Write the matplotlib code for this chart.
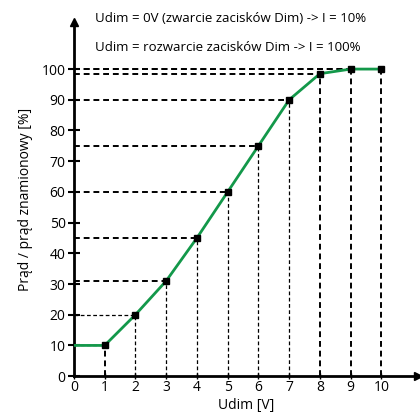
import matplotlib
matplotlib.use('Agg')
import matplotlib.pyplot as plt

plt.rcParams['font.family'] = ['Open Sans', 'DejaVu Sans']

# data
U_DIM = [0, 1, 2, 3, 4, 5, 6, 7, 8, 9, 10]
CURRENT = [10, 10, 20, 31, 45, 60, 75, 90, 98.5, 100, 100]
X_TICKS = [0, 1, 2, 3, 4, 5, 6, 7, 8, 9, 10]
Y_TICKS = [0, 10, 20, 30, 40, 50, 60, 70, 80, 90, 100]
NOTE_1 = "Udim = 0V (zwarcie zacisków Dim) -> I = 10%"
NOTE_2 = "Udim = rozwarcie zacisków Dim -> I = 100%"

GREEN = '#13984a'

fig = plt.figure(figsize=(4.2, 4.17), dpi=100)
ax = fig.add_axes([0.176, 0.098, 0.82, 0.849])
ax.set_xlim(0, 11.2)
ax.set_ylim(0, 115.3)

# dashed guide lines, thick ones for the upper points
for x, y in zip(U_DIM[1:], CURRENT[1:]):
    lw_h = 0.9 if y < 25 else 1.4
    lw_v = 1.4 if x in (1, 8, 9, 10) else 0.9
    ax.plot([0, x], [y, y], color='black', linestyle=(0, (3, 2)), linewidth=lw_h, zorder=1)
    ax.plot([x, x], [0, y], color='black', linestyle=(0, (3, 2)), linewidth=lw_v, zorder=1)

ax.plot(U_DIM, CURRENT, color=GREEN, linewidth=2, zorder=3)
ax.plot(U_DIM[1:], CURRENT[1:], linestyle='none', marker='s', markersize=5,
        color='black', zorder=4)

for s in ['top', 'right']:
    ax.spines[s].set_visible(False)
for s in ['left', 'bottom']:
    ax.spines[s].set_linewidth(2)
ax.plot(1, 0, '>k', markersize=6, transform=ax.transAxes, clip_on=False)
ax.plot(0, 1, '^k', markersize=6, transform=ax.transAxes, clip_on=False)

ax.set_xticks(X_TICKS)
ax.set_yticks(Y_TICKS)
ax.tick_params(axis='y', direction='inout', length=8, width=1.5, labelsize=10, pad=2)
ax.tick_params(axis='x', direction='inout', length=4, width=1, labelsize=10, pad=1)

ax.set_xlabel('Udim [V]', fontsize=10, labelpad=2)
ax.set_ylabel('Prąd / prąd znamionowy [%]', fontsize=10, labelpad=6)

fig.text(0.226, 0.955, NOTE_1, fontsize=9.5, va='center')
fig.text(0.226, 0.886, NOTE_2, fontsize=9.5, va='center')

fig.savefig('out.png', dpi=100)
